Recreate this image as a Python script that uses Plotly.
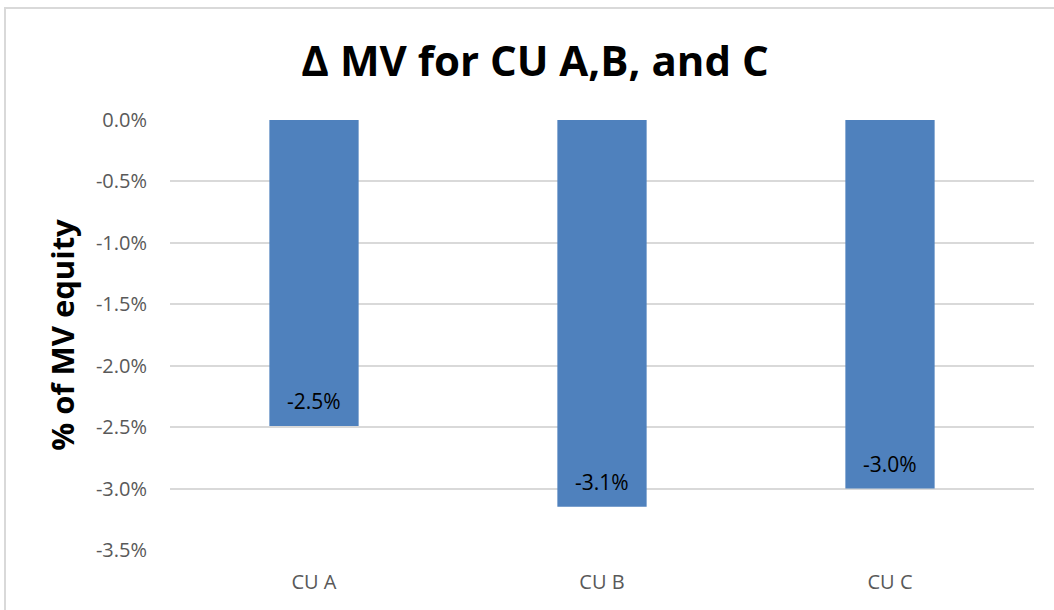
import plotly.graph_objects as go

categories = ["CU A", "CU B", "CU C"]
values = [-0.0249, -0.03147, -0.0300]
y_ticks = [0.0, -0.005, -0.01, -0.015, -0.02, -0.025, -0.03, -0.035]
y_tick_labels = [f"{v:.1%}" for v in y_ticks]
value_labels = [f"{v:.1%}" for v in values]

FONT = "Open Sans, Noto Sans, sans-serif"
W, H = 1054, 610
ML, MR, MT, MB = 170, 20, 120, 60
pw, ph = W - ML - MR, H - MT - MB

fig = go.Figure()
fig.add_trace(go.Bar(
    x=categories, y=values,
    marker=dict(color="#4f81bd", line=dict(width=0)),
    width=0.31,
    hoverinfo="skip",
))

for c, v, t in zip(categories, values, value_labels):
    fig.add_annotation(x=c, y=v, text=t, showarrow=False, yanchor="middle",
                       yshift=25, font=dict(family=FONT, size=21, color="#000000"))

fig.update_layout(
    width=W, height=H,
    margin=dict(l=ML, r=MR, t=MT, b=MB),
    paper_bgcolor="white", plot_bgcolor="white",
    showlegend=False,
    title=dict(text="<b>Δ MV for CU A,B, and C</b>", x=535 / W, xref="container", xanchor="center",
               y=(H - 61) / H, yref="container", yanchor="middle",
               font=dict(family=FONT, size=42, color="#000000")),
    xaxis=dict(showgrid=False, showline=False, ticks="", ticklabelstandoff=18,
               tickfont=dict(family=FONT, size=20, color="#595959")),
    yaxis=dict(range=[-0.035, 0.0], tickvals=y_ticks, ticktext=y_tick_labels,
               showgrid=True, gridcolor="#d9d9d9", gridwidth=1.5, zeroline=False,
               showline=False, ticks="", ticklabelstandoff=22,
               tickfont=dict(family=FONT, size=20, color="#595959"),
               title=dict(text="<b>% of MV equity</b>", standoff=12,
                          font=dict(family=FONT, size=31, color="#000000"))),
)

# chart border (outer frame)
fig.add_shape(type="rect", xref="paper", yref="paper",
              x0=(5 - ML) / pw, x1=(W + 5 - ML) / pw,
              y0=-(MB + 10) / ph, y1=(H - 8 - MB) / ph,
              line=dict(color="#d9d9d9", width=2), fillcolor="rgba(0,0,0,0)", layer="below")

fig.write_html("out.html", config={"displayModeBar": False},
               post_script="document.body.style.margin='0';")
